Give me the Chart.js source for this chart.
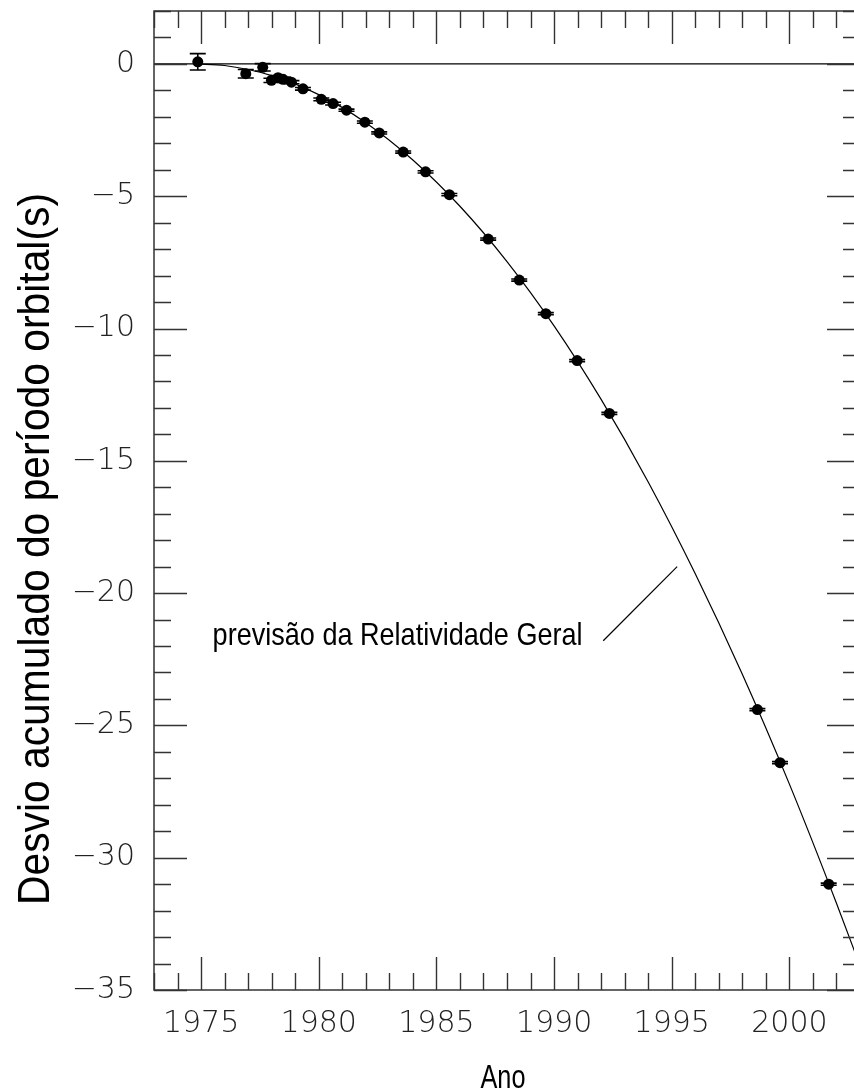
<!DOCTYPE html>
<html lang="pt">
<head>
  <meta charset="UTF-8">
  <title>Desvio acumulado do período orbital</title>
  <script src="https://cdn.jsdelivr.net/npm/chart.js"></script>
  <style>
    html, body { margin: 0; padding: 0; background: #fff; overflow: hidden; }
    canvas { display: block; }
  </style>
</head>
<body>
  <canvas id="pulsarChart" width="880" height="1092"></canvas>

  <script>
    // Observed cumulative shift of periastron time (s)
    const obsYears  = [1974.86, 1976.90, 1977.62, 1977.99, 1978.27, 1978.48, 1978.84, 1979.33,
                       1980.11, 1980.61, 1981.18, 1981.96, 1982.57, 1983.59, 1984.54, 1985.55,
                       1987.20, 1988.52, 1989.65, 1990.98, 1992.35, 1998.64, 1999.60, 2001.67];
    const obsShift  = [0.08, -0.37, -0.13, -0.62, -0.52, -0.58, -0.69, -0.94,
                       -1.34, -1.50, -1.75, -2.20, -2.61, -3.33, -4.08, -4.94,
                       -6.62, -8.17, -9.44, -11.21, -13.21, -24.40, -26.41, -31.00];
    const obsError  = [0.31, 0.16, 0.14, 0.08, 0.08, 0.08, 0.06, 0.05,
                       0.05, 0.05, 0.04, 0.04, 0.04, 0.04, 0.04, 0.04,
                       0.04, 0.04, 0.04, 0.04, 0.04, 0.04, 0.04, 0.04];

    // General relativity prediction
    const grYears = [1974.8, 1976, 1978, 1980, 1982, 1984, 1986, 1988, 1990, 1992, 1994, 1996, 1998, 2000, 2002, 2003];
    const grShift = [0, -0.06, -0.44, -1.16, -2.22, -3.63, -5.38, -7.47, -9.90, -12.68, -15.80, -19.27, -23.07, -27.22, -31.72, -34.09];

    // Axes
    const xRange = [1973, 2003];
    const yRange = [-35, 2];
    const xTickLabels = [1975, 1980, 1985, 1990, 1995, 2000];
    const yTickLabels = [0, -5, -10, -15, -20, -25, -30, -35];

    const yTitle = 'Desvio acumulado do período orbital(s)';
    const xTitle = 'Ano';
    const noteText = 'previsão da Relatividade Geral';
    // annotation placement in data units
    const noteAt = [1975.49, -21.98];
    const noteLeader = [[1992.09, -21.8], [1995.23, -19.0]];

    const ink = '#222';

    function squeezedText(ctx, text, px, width, x, y, angle, align) {
      ctx.save();
      ctx.font = px + 'px "Liberation Sans", Arial, sans-serif';
      const natural = ctx.measureText(text).width;
      ctx.translate(x, y);
      ctx.rotate(angle);
      ctx.scale(width / natural, 1);
      ctx.textAlign = align;
      ctx.textBaseline = 'alphabetic';
      ctx.fillStyle = '#000';
      ctx.fillText(text, 0, 0);
      ctx.restore();
    }

    // error bars drawn through the chart's own scales
    const errorBars = {
      id: 'errorBars',
      afterDatasetsDraw(chart) {
        const { ctx, scales: { x, y } } = chart;
        ctx.save();
        ctx.strokeStyle = '#000';
        ctx.lineWidth = 1.6;
        obsYears.forEach((yr, i) => {
          const px = x.getPixelForValue(yr);
          const top = y.getPixelForValue(obsShift[i] + obsError[i]);
          const bot = y.getPixelForValue(obsShift[i] - obsError[i]);
          ctx.beginPath();
          ctx.moveTo(px, top); ctx.lineTo(px, bot);
          ctx.moveTo(px - 8, top); ctx.lineTo(px + 8, top);
          ctx.moveTo(px - 8, bot); ctx.lineTo(px + 8, bot);
          ctx.stroke();
        });
        ctx.restore();
      }
    };

    // frame, inward ticks on all four sides, titles and note
    const frame = {
      id: 'frame',
      afterDraw(chart) {
        const { ctx, chartArea: a, scales: { x, y } } = chart;
        ctx.save();
        ctx.strokeStyle = '#333';
        ctx.lineWidth = 1.5;
        ctx.strokeRect(a.left, a.top, a.right - a.left, a.bottom - a.top);

        ctx.lineWidth = 1.4;
        ctx.beginPath();
        for (let v = yRange[0]; v <= yRange[1]; v++) {
          const len = v % 5 === 0 ? 33 : 17;
          const py = Math.round(y.getPixelForValue(v)) + 0.5;
          ctx.moveTo(a.left, py); ctx.lineTo(a.left + len, py);
          ctx.moveTo(a.right, py); ctx.lineTo(a.right - len, py);
        }
        for (let v = xRange[0]; v <= xRange[1]; v++) {
          const len = v % 5 === 0 ? 33 : 17;
          const px = Math.round(x.getPixelForValue(v)) + 0.5;
          ctx.moveTo(px, a.bottom); ctx.lineTo(px, a.bottom - len);
          ctx.moveTo(px, a.top); ctx.lineTo(px, a.top + len);
        }
        ctx.stroke();

        // leader line of the note
        ctx.strokeStyle = '#000';
        ctx.lineWidth = 1.2;
        ctx.beginPath();
        ctx.moveTo(x.getPixelForValue(noteLeader[0][0]), y.getPixelForValue(noteLeader[0][1]));
        ctx.lineTo(x.getPixelForValue(noteLeader[1][0]), y.getPixelForValue(noteLeader[1][1]));
        ctx.stroke();
        ctx.restore();

        squeezedText(ctx, noteText, 32, 370,
          x.getPixelForValue(noteAt[0]), y.getPixelForValue(noteAt[1]), 0, 'left');
        squeezedText(ctx, yTitle, 44, 712, 49, 549, -Math.PI / 2, 'center');
        squeezedText(ctx, xTitle, 34, 45, 503, 1088, 0, 'center');
      }
    };

    const tickFont = { family: '"DejaVu Sans", sans-serif', size: 30, weight: 200 };

    new Chart(document.getElementById('pulsarChart'), {
      type: 'scatter',
      data: {
        datasets: [
          {
            label: 'zero',
            type: 'line',
            data: xRange.map(v => ({ x: v, y: 0 })),
            borderColor: '#000',
            borderWidth: 1.2,
            pointRadius: 0
          },
          {
            label: 'Relatividade Geral',
            type: 'line',
            data: grYears.map((v, i) => ({ x: v, y: grShift[i] })),
            borderColor: '#000',
            borderWidth: 1.2,
            pointRadius: 0,
            cubicInterpolationMode: 'monotone'
          },
          {
            label: 'observado',
            data: obsYears.map((v, i) => ({ x: v, y: obsShift[i] })),
            backgroundColor: '#000',
            borderColor: '#000',
            pointRadius: 5.5,
            pointBorderWidth: 0
          }
        ]
      },
      options: {
        responsive: false,
        animation: false,
        devicePixelRatio: 1,
        layout: { autoPadding: false, padding: { top: 11, right: 20, left: 0, bottom: 0 } },
        plugins: { legend: { display: false }, tooltip: { enabled: false } },
        scales: {
          x: {
            type: 'linear',
            min: xRange[0],
            max: xRange[1],
            grid: { display: false, drawTicks: false },
            border: { display: false },
            ticks: {
              font: tickFont, color: ink, padding: 16,
              autoSkip: false, maxRotation: 0,
              callback: v => String(v)
            },
            afterBuildTicks: s => { s.ticks = xTickLabels.map(v => ({ value: v })); },
            afterFit: s => { s.height = 102; s.paddingLeft = 0; s.paddingRight = 0; }
          },
          y: {
            type: 'linear',
            min: yRange[0],
            max: yRange[1],
            grid: { display: false, drawTicks: false },
            border: { display: false },
            ticks: {
              font: tickFont, color: ink, padding: 19,
              autoSkip: false,
              callback: v => v < 0 ? '\u2212' + Math.abs(v) : String(v)
            },
            afterBuildTicks: s => { s.ticks = yTickLabels.map(v => ({ value: v })); },
            // drop the room kept for the end labels so the frame reaches the top
            afterFit: s => { s.width = 154; s.paddingTop = 0; s.paddingBottom = 0; }
          }
        }
      },
      plugins: [errorBars, frame]
    });
  </script>
</body>
</html>
